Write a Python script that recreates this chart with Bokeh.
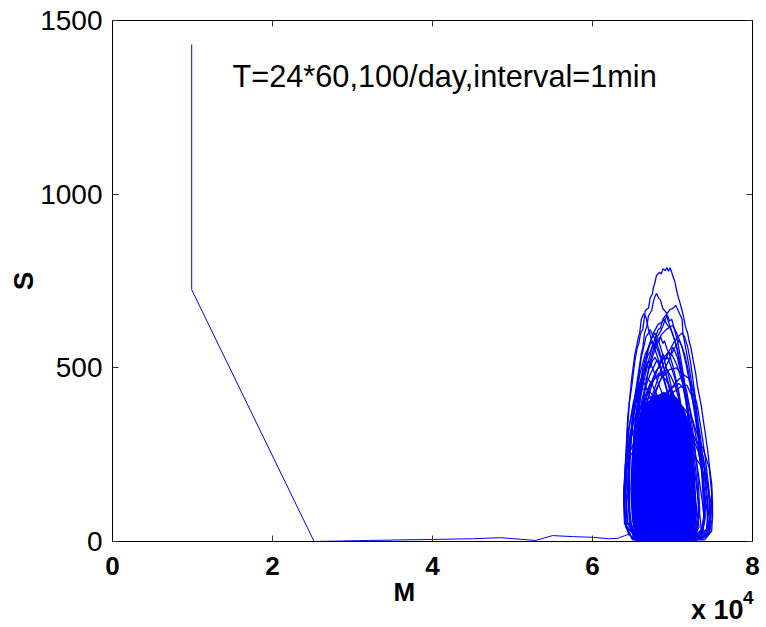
import math
from bokeh.plotting import figure
from bokeh.models import FixedTicker, LinearAxis, Label, Range1d, Title, CustomLabelingPolicy
from bokeh.embed import file_html
from bokeh.resources import INLINE

# ---------------- data (M in units of 10^4, S) ----------------
X_TICKS = [0, 2, 4, 6, 8]
Y_TICKS = [0, 500, 1000, 1500]

# initial transient: vertical drop, diagonal, trail along the bottom
PATH_M = [0.99, 0.99, 2.52, 3.2, 4.01, 4.5, 4.85, 5.29, 5.5, 5.76, 6.01, 6.2, 6.31, 6.48]
PATH_S = [1431, 725, 0, 3, 6, 8, 11, 3, 17, 14, 12, 8, 9, 23]

# densely overlapped core of the attractor
CORE_M = [6.54, 6.51, 6.54, 6.56, 6.58, 6.62, 6.66, 6.72, 6.77, 6.82, 6.89, 6.94, 6.99, 7.06, 7.13, 7.19, 7.25, 7.27, 7.29, 7.26]
CORE_S = [9, 81, 176, 271, 348, 380, 398, 406, 420, 412, 430, 418, 424, 410, 385, 348, 271, 176, 81, 9]

LOOPS_M = [
    [6.55, 6.45, 6.40, 6.39, 6.40, 6.41, 6.42, 6.43, 6.44, 6.46, 6.49, 6.51, 6.53, 6.56, 6.58, 6.60, 6.63, 6.64, 6.66, 6.70, 6.72, 6.75, 6.76, 6.78, 6.80, 6.84, 6.86, 6.88, 6.91, 6.93, 6.95, 6.97, 6.99, 7.01, 7.03, 7.04, 7.06, 7.09, 7.12, 7.14, 7.16, 7.19, 7.21, 7.23, 7.26, 7.29, 7.31, 7.33, 7.36, 7.38, 7.41, 7.44, 7.47, 7.49, 7.50, 7.50, 7.46, 7.38, 7.20, 6.95, 6.70, 6.55],
    [6.58, 6.50, 6.46, 6.45, 6.46, 6.48, 6.50, 6.53, 6.57, 6.61, 6.63, 6.65, 6.68, 6.70, 6.74, 6.76, 6.78, 6.80, 6.83, 6.85, 6.88, 6.92, 6.94, 6.96, 7.00, 7.05, 7.10, 7.15, 7.20, 7.26, 7.32, 7.37, 7.40, 7.36, 7.20, 6.90, 6.58],
    [6.62, 6.52, 6.49, 6.50, 6.52, 6.55, 6.59, 6.64, 6.70, 6.76, 6.82, 6.85, 6.88, 6.93, 6.97, 7.01, 7.04, 7.07, 7.10, 7.12, 7.13, 7.17, 7.21, 7.25, 7.30, 7.35, 7.39, 7.43, 7.45, 7.42, 7.30, 7.00, 6.62],
    [6.50, 6.42, 6.40, 6.41, 6.42, 6.44, 6.46, 6.49, 6.53, 6.55, 6.57, 6.59, 6.61, 6.64, 6.67, 6.70, 6.74, 6.80, 6.87, 6.94, 7.02, 7.10, 7.17, 7.23, 7.26, 7.22, 7.00, 6.70, 6.50],
    [6.60, 6.55, 6.53, 6.54, 6.57, 6.61, 6.66, 6.72, 6.79, 6.86, 6.92, 6.97, 7.00, 7.03, 7.07, 7.12, 7.17, 7.22, 7.27, 7.32, 7.36, 7.38, 7.39, 7.35, 7.10, 6.60],
    [6.70, 6.60, 6.57, 6.58, 6.62, 6.68, 6.76, 6.85, 6.94, 7.02, 7.08, 7.12, 7.15, 7.19, 7.23, 7.27, 7.31, 7.35, 7.38, 7.40, 7.38, 7.25, 6.70],
    [6.55, 6.47, 6.44, 6.45, 6.48, 6.53, 6.59, 6.66, 6.72, 6.75, 6.79, 6.85, 6.92, 6.99, 7.06, 7.13, 7.19, 7.24, 7.26, 7.15, 6.55],
    [6.58, 6.50, 6.49, 6.52, 6.57, 6.63, 6.70, 6.76, 6.82, 6.86, 6.90, 6.93, 6.97, 7.02, 7.07, 7.12, 7.17, 7.22, 7.27, 7.31, 7.33, 7.28, 6.90, 6.58],
    [6.60, 6.55, 6.54, 6.56, 6.60, 6.65, 6.70, 6.74, 6.78, 6.81, 6.85, 6.90, 6.96, 7.02, 7.08, 7.14, 7.19, 7.22, 7.18, 6.60],
    [6.62, 6.56, 6.55, 6.57, 6.61, 6.67, 6.74, 6.82, 6.89, 6.95, 7.00, 7.06, 7.12, 7.17, 7.21, 7.25, 7.28, 7.30, 7.27, 7.00, 6.62],
    [6.56, 6.50, 6.48, 6.50, 6.54, 6.59, 6.64, 6.68, 6.70, 6.74, 6.80, 6.88, 6.96, 7.04, 7.11, 7.17, 7.20, 7.12, 6.56],
    [6.68, 6.60, 6.59, 6.62, 6.68, 6.76, 6.86, 6.96, 7.05, 7.12, 7.18, 7.23, 7.28, 7.32, 7.34, 7.30, 6.68],
    [6.60, 6.53, 6.52, 6.55, 6.61, 6.70, 6.78, 6.85, 6.92, 7.00, 7.08, 7.15, 7.21, 7.25, 7.24, 6.60],
    [6.52, 6.46, 6.45, 6.47, 6.51, 6.56, 6.60, 6.62, 6.66, 6.73, 6.82, 6.92, 7.02, 7.10, 7.14, 7.00, 6.52],
    [6.75, 6.65, 6.62, 6.66, 6.74, 6.85, 6.98, 7.10, 7.18, 7.24, 7.29, 7.34, 7.38, 7.41, 7.38, 7.10, 6.75],
    [6.60, 6.42, 6.40, 6.42, 6.47, 6.55, 6.70, 6.85, 6.95, 7.10, 7.25, 7.38, 7.46, 7.49, 7.48, 7.42, 7.20, 6.60],
    [6.62, 6.44, 6.42, 6.43, 6.47, 6.55, 6.65, 6.75, 6.80, 6.90, 7.05, 7.20, 7.32, 7.40, 7.44, 7.43, 7.20, 6.62],
    [6.70, 6.52, 6.50, 6.53, 6.60, 6.72, 6.85, 7.00, 7.15, 7.28, 7.38, 7.45, 7.47, 7.44, 7.30, 6.70],
    [6.57, 6.52, 6.50, 6.51, 6.53, 6.56, 6.58, 6.61, 6.63, 6.66, 6.69, 6.72, 6.75, 6.78, 6.80, 6.83, 6.85, 6.88, 6.90, 6.93, 6.96, 7.00, 7.04, 7.08, 7.12, 7.16, 7.20, 7.24, 7.27, 7.29, 7.26, 7.00, 6.57],
    [6.64, 6.58, 6.56, 6.58, 6.62, 6.67, 6.73, 6.79, 6.84, 6.88, 6.92, 6.95, 6.98, 7.00, 7.03, 7.06, 7.09, 7.13, 7.17, 7.21, 7.25, 7.30, 7.34, 7.36, 7.33, 7.10, 6.64],
    [6.56, 6.47, 6.44, 6.45, 6.48, 6.52, 6.56, 6.60, 6.64, 6.68, 6.72, 6.75, 6.78, 6.82, 6.86, 6.91, 6.97, 7.03, 7.09, 7.15, 7.20, 7.23, 7.18, 6.56],
    [6.62, 6.55, 6.53, 6.55, 6.60, 6.66, 6.72, 6.78, 6.83, 6.88, 6.93, 6.98, 7.03, 7.08, 7.13, 7.18, 7.23, 7.27, 7.30, 7.26, 6.62],
    [6.70, 6.62, 6.60, 6.63, 6.70, 6.80, 6.90, 6.98, 7.04, 7.08, 7.14, 7.20, 7.26, 7.32, 7.37, 7.42, 7.45, 7.43, 7.30, 6.70],
    [6.55, 6.43, 6.41, 6.42, 6.45, 6.50, 6.56, 6.62, 6.68, 6.74, 6.82, 6.92, 7.02, 7.12, 7.20, 7.24, 7.10, 6.55],
    [6.66, 6.56, 6.55, 6.60, 6.70, 6.84, 6.98, 7.12, 7.25, 7.35, 7.42, 7.46, 7.47, 7.43, 7.25, 6.66],
    [6.58, 6.41, 6.39, 6.41, 6.46, 6.56, 6.70, 6.85, 7.00, 7.12, 7.22, 7.30, 7.33, 7.25, 6.58],
    [6.52, 6.47, 6.46, 6.47, 6.50, 6.54, 6.58, 6.61, 6.64, 6.67, 6.70, 6.72, 6.75, 6.78, 6.82, 6.87, 6.93, 7.00, 7.07, 7.13, 7.18, 7.22, 7.20, 6.52],
    [6.72, 6.64, 6.62, 6.64, 6.69, 6.76, 6.84, 6.91, 6.97, 7.02, 7.06, 7.08, 7.11, 7.15, 7.19, 7.23, 7.28, 7.33, 7.37, 7.40, 7.41, 7.37, 7.20, 6.72],
    [6.58, 6.52, 6.51, 6.53, 6.57, 6.62, 6.67, 6.72, 6.76, 6.80, 6.84, 6.88, 6.91, 6.94, 6.98, 7.03, 7.08, 7.13, 7.18, 7.22, 7.25, 7.22, 6.58],
    [6.50, 6.41, 6.40, 6.42, 6.46, 6.51, 6.57, 6.63, 6.69, 6.75, 6.83, 6.92, 7.01, 7.08, 7.12, 7.00, 6.50],
    [6.78, 6.68, 6.66, 6.70, 6.78, 6.88, 6.98, 7.07, 7.14, 7.20, 7.26, 7.31, 7.36, 7.41, 7.45, 7.48, 7.46, 7.30, 6.78],
    [6.60, 6.40, 6.39, 6.41, 6.48, 6.60, 6.80, 7.00, 7.20, 7.35, 7.45, 7.50, 7.49, 7.40, 6.60],
    [6.66, 6.60, 6.58, 6.60, 6.63, 6.67, 6.72, 6.77, 6.81, 6.85, 6.88, 6.91, 6.94, 6.96, 6.99, 7.02, 7.06, 7.10, 7.15, 7.19, 7.23, 7.26, 7.27, 7.22, 6.66],
    [6.60, 6.54, 6.53, 6.56, 6.62, 6.70, 6.78, 6.86, 6.92, 6.95, 6.99, 7.05, 7.12, 7.18, 7.23, 7.26, 7.22, 6.60],
]
LOOPS_S = [
    [5, 20, 70, 120, 170, 220, 262, 310, 357, 400, 445, 484, 520, 559, 570, 599, 612, 630, 665, 672, 700, 714, 730, 745, 766, 775, 770, 785, 780, 789, 778, 788, 775, 760, 748, 735, 714, 690, 665, 645, 620, 599, 575, 559, 520, 484, 450, 426, 390, 357, 311, 262, 200, 167, 110, 69, 23, 10, 3, 2, 4, 5],
    [6, 30, 90, 160, 230, 300, 360, 420, 480, 540, 560, 600, 620, 650, 665, 690, 705, 714, 700, 695, 670, 660, 640, 625, 600, 560, 500, 440, 370, 290, 200, 120, 60, 20, 5, 3, 6],
    [5, 40, 120, 200, 270, 340, 400, 460, 520, 570, 610, 615, 640, 655, 668, 672, 680, 665, 650, 640, 600, 550, 500, 440, 370, 300, 220, 140, 80, 30, 8, 2, 5],
    [8, 40, 100, 170, 250, 330, 400, 470, 540, 560, 585, 600, 640, 656, 645, 610, 580, 540, 490, 430, 360, 280, 200, 120, 60, 15, 3, 4, 8],
    [4, 50, 130, 220, 300, 380, 450, 510, 560, 595, 610, 618, 622, 610, 590, 560, 510, 450, 380, 300, 220, 140, 70, 20, 3, 4],
    [3, 30, 100, 190, 280, 360, 430, 490, 540, 575, 592, 600, 590, 560, 510, 440, 360, 270, 180, 100, 40, 8, 3],
    [5, 50, 130, 220, 310, 400, 480, 540, 568, 575, 565, 530, 480, 420, 350, 270, 180, 100, 40, 6, 5],
    [5, 80, 200, 320, 420, 500, 560, 600, 625, 630, 640, 625, 615, 585, 545, 490, 420, 340, 250, 160, 70, 15, 3, 5],
    [5, 80, 200, 320, 420, 500, 555, 585, 600, 590, 560, 520, 470, 410, 340, 260, 170, 80, 20, 5],
    [5, 60, 150, 240, 320, 390, 450, 500, 530, 545, 535, 505, 460, 400, 330, 250, 160, 80, 25, 4, 5],
    [5, 60, 150, 250, 340, 420, 480, 512, 520, 505, 470, 420, 360, 290, 210, 130, 60, 10, 5],
    [5, 60, 160, 260, 350, 420, 470, 495, 500, 480, 430, 360, 270, 180, 90, 25, 5],
    [5, 80, 180, 280, 370, 440, 470, 480, 465, 430, 370, 290, 200, 110, 40, 5],
    [5, 60, 160, 260, 350, 420, 455, 465, 450, 410, 350, 280, 200, 120, 50, 8, 5],
    [5, 50, 150, 250, 330, 390, 425, 445, 450, 420, 360, 280, 190, 100, 30, 5, 5],
    [5, 40, 120, 200, 260, 300, 320, 328, 330, 320, 300, 270, 210, 140, 70, 25, 5, 5],
    [5, 50, 140, 230, 310, 370, 405, 418, 420, 410, 380, 330, 260, 180, 100, 35, 5, 5],
    [5, 60, 160, 260, 330, 370, 380, 372, 345, 300, 230, 150, 75, 25, 5, 5],
    [5, 50, 140, 230, 310, 370, 420, 455, 490, 510, 535, 545, 565, 560, 580, 575, 590, 570, 578, 555, 540, 510, 470, 430, 370, 300, 220, 140, 70, 25, 8, 3, 5],
    [5, 70, 170, 270, 350, 410, 455, 490, 505, 530, 525, 545, 540, 560, 548, 530, 500, 460, 400, 330, 250, 160, 80, 30, 10, 4, 5],
    [5, 60, 150, 240, 320, 390, 430, 465, 480, 505, 500, 520, 530, 515, 490, 450, 400, 340, 270, 190, 110, 40, 8, 5],
    [5, 80, 180, 280, 360, 420, 455, 470, 485, 480, 495, 475, 450, 410, 350, 280, 200, 120, 50, 12, 5],
    [5, 60, 160, 260, 340, 395, 425, 440, 450, 455, 440, 400, 340, 270, 190, 110, 50, 15, 5, 5],
    [5, 60, 150, 240, 320, 380, 420, 438, 440, 425, 385, 325, 255, 175, 95, 30, 5, 5],
    [5, 70, 170, 260, 330, 380, 400, 390, 350, 280, 200, 120, 60, 18, 5, 5],
    [5, 60, 140, 220, 290, 340, 360, 355, 320, 260, 180, 100, 40, 8, 5],
    [5, 60, 150, 250, 340, 420, 480, 530, 560, 590, 600, 610, 595, 585, 560, 520, 470, 400, 320, 230, 140, 60, 15, 5],
    [5, 60, 160, 260, 340, 410, 460, 500, 530, 555, 570, 580, 565, 540, 500, 445, 380, 300, 220, 140, 70, 20, 5, 5],
    [5, 70, 170, 270, 350, 410, 450, 480, 500, 520, 515, 540, 525, 530, 505, 470, 420, 350, 260, 160, 70, 15, 5],
    [5, 50, 140, 240, 330, 400, 445, 465, 470, 450, 410, 340, 250, 150, 60, 8, 5],
    [5, 60, 160, 260, 340, 400, 440, 465, 480, 470, 440, 390, 320, 240, 160, 80, 25, 5, 5],
    [5, 50, 130, 200, 250, 285, 300, 295, 270, 220, 150, 80, 30, 5, 5],
    [5, 80, 190, 300, 390, 460, 520, 560, 590, 605, 620, 640, 650, 635, 640, 615, 580, 530, 460, 380, 280, 170, 70, 15, 5],
    [5, 80, 180, 280, 350, 395, 415, 425, 420, 435, 430, 410, 370, 300, 200, 100, 20, 5],
]

TITLE = "T=24*60,100/day,interval=1min"
X_LABEL = "M"
Y_LABEL = "S"
X_SCALE_BASE = "x 10"
X_SCALE_EXP = "4"

BLUE = "#0000ff"
FONT = "Liberation Sans"

p = figure(width=766, height=627, x_range=Range1d(0, 8), y_range=Range1d(0, 1500),
           output_backend="svg", toolbar_location=None,
           min_border_left=112, min_border_right=14, min_border_top=20, min_border_bottom=86)
p.xgrid.visible = False
p.ygrid.visible = False
p.outline_line_color = "black"
p.outline_line_width = 1
p.background_fill_color = "white"
p.border_fill_color = "white"

for ax in (p.xaxis[0], p.yaxis[0]):
    ax.major_tick_in = 6
    ax.major_tick_out = 0
    ax.minor_tick_line_color = None
    ax.axis_line_color = "black"
    ax.major_tick_line_color = "#333333"
    ax.major_label_text_color = "black"
    ax.major_label_text_font = FONT

p.xaxis.ticker = FixedTicker(ticks=X_TICKS)
p.yaxis.ticker = FixedTicker(ticks=Y_TICKS)
p.xaxis.major_label_text_font_size = "26px"
p.xaxis.major_label_text_font_style = "bold"
p.xaxis.major_label_standoff = 15
p.yaxis.major_label_text_font_size = "28px"
p.yaxis.major_label_standoff = 10
p.yaxis.axis_label = Y_LABEL
p.yaxis.axis_label_text_font = FONT
p.yaxis.axis_label_text_font_size = "28px"
p.yaxis.axis_label_text_font_style = "bold"
p.yaxis.axis_label_text_color = "black"
p.yaxis.axis_label_standoff = -2

hide_all = CustomLabelingPolicy(code="for (const i of indices) indices.unset(i)")
for loc, ticks in (("above", X_TICKS), ("right", Y_TICKS)):
    ax = LinearAxis(ticker=FixedTicker(ticks=ticks), major_tick_in=6, major_tick_out=0,
                    minor_tick_line_color=None, axis_line_color="black",
                    major_tick_line_color="#333333", major_label_text_font_size="1px",
                    major_label_standoff=0, major_label_policy=hide_all)
    p.add_layout(ax, loc)

# data
p.patch(CORE_M, CORE_S, fill_color=BLUE, line_color=BLUE, line_width=1.3)
p.multi_line(LOOPS_M, LOOPS_S, line_color=BLUE, line_width=1.3)
p.line(PATH_M, PATH_S, line_color=BLUE, line_width=1)

# in-plot title
p.add_layout(Label(x=120, y=465, x_units="screen", y_units="screen", text=TITLE,
                   text_font=FONT, text_font_size="30.7px", text_color="black",
                   text_baseline="alphabetic", text_align="left"))

# x label and exponent note below the axis
p.add_layout(Title(text=X_LABEL, align="left", offset=281, standoff=-3, vertical_align="middle",
                   text_font=FONT, text_font_size="26px", text_font_style="bold",
                   text_color="black"), "below")
p.add_layout(Title(text=X_SCALE_BASE, align="right", offset=9, standoff=-24, vertical_align="top",
                   text_font=FONT, text_font_size="27px", text_font_style="bold",
                   text_color="black"), "below")
p.add_layout(Title(text=X_SCALE_EXP, align="right", offset=-1, standoff=-47, vertical_align="top",
                   text_font=FONT, text_font_size="19px", text_font_style="bold",
                   text_color="black"), "below")

open("out.html", "w").write(file_html(p, INLINE))
